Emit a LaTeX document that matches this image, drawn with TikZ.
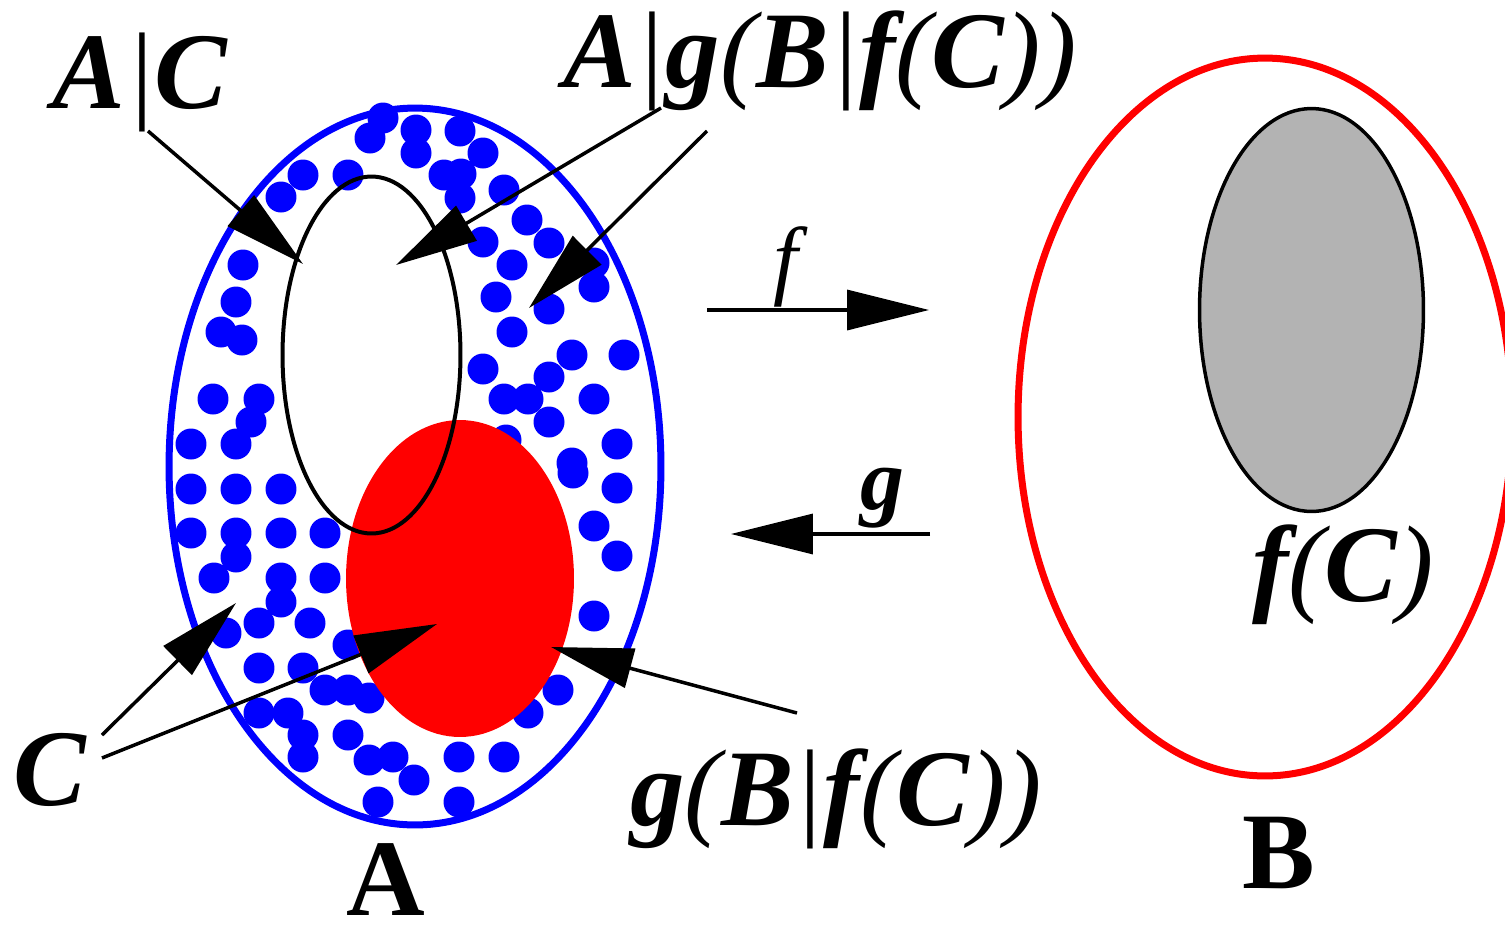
\documentclass[tikz,border=0pt]{standalone}
\usepackage{fontspec}
\setmainfont{Liberation Serif}
\usetikzlibrary{arrows.meta}
\definecolor{fcgray}{HTML}{B3B3B3}
\newcommand{\nrm}[1]{{\mdseries #1}}

\begin{document}
\begin{tikzpicture}[x=0.02cm,y=-0.02cm,
  lbl/.style={inner sep=0pt,anchor=base,font=\fontsize{62}{62}\selectfont\bfseries\itshape},
  maplbl/.style={inner sep=0pt,anchor=base,font=\fontsize{50}{50}\selectfont\itshape},
  setlbl/.style={inner sep=0pt,anchor=base,font=\fontsize{62}{62}\selectfont\bfseries},
  pointer/.style={line width=0.07cm,-{Triangle[length=1.64cm,width=0.8cm]}}]
  \useasboundingbox (0,0) rectangle (1505,941);
  % set A with its points
  \foreach \px/\py in {383/118,370/138,416/130,416/153,460/131,483/153,444/175,461/174,
      460/198,504/190,303/175,348/175,281/197,527/220,483/242,549/243,512/265,594/263,
      594/287,496/297,549/309,512/332,572/355,624/355,483/369,549/377,504/399,528/399,
      594/399,549/422,617/444,572/463,506/440,243/265,236/302,221/332,242/340,213/399,
      259/399,251/422,191/444,236/444,191/489,236/489,281/489,191/533,236/533,281/533,
      325/533,236/557,214/578,281/578,325/578,281/602,226/633,259/623,310/623,348/645,
      259/668,303/668,325/690,348/690,369/698,259/713,288/713,303/735,348/735,303/757,
      369/760,393/757,414/780,378/802,573/473,617/488,594/526,617/556,594/616,558/690,
      528/713,459/757,504/757,459/802}
    \fill[blue] (\px,\py) circle[radius=0.31cm];
  \draw[blue,line width=0.14cm] (415,466.5) ellipse [x radius=4.92cm,y radius=7.17cm];
  \fill[red] (460,578.5) ellipse [x radius=2.28cm,y radius=3.17cm];
  \draw[line width=0.08cm] (371.5,355) ellipse [x radius=1.78cm,y radius=3.57cm];
  % set B
  \draw[red,line width=0.14cm] (1265,417) ellipse [x radius=4.94cm,y radius=7.18cm];
  \filldraw[fill=fcgray,line width=0.07cm] (1311.5,310) ellipse [x radius=2.24cm,y radius=4.03cm];

  % labels
  \node[lbl] (lblAC) at (140,108) {A\nrm{|}C};
  \node[lbl] (lblAg) at (820,87) {A\nrm{|}g\nrm{(}B\nrm{|}f\nrm{(}C\nrm{))}};
  \node[lbl] (lblC) at (50,805) {C};
  \node[lbl] (lblgB) at (836,825) {g\nrm{(}B\nrm{|}f\nrm{(}C\nrm{))}};
  \node[lbl] (lblfC) at (1343,601) {f\nrm{(}C\nrm{)}};
  \node[maplbl] (lblf) at (786,288) {f};
  \node[maplbl,font=\fontsize{50}{50}\selectfont\bfseries\itshape] (lblg) at (882,509) {g};
  \node[setlbl] (lblA) at (386,915) {A};
  \node[setlbl] (lblB) at (1279,888) {B};

  % pointers
  \coordinate (acFrom) at (148,131);  \coordinate (acTo) at (303,264);
  \coordinate (agFromA) at (661,108); \coordinate (agToA) at (396,265);
  \coordinate (agFromB) at (707,131); \coordinate (agToB) at (529,308);
  \coordinate (fFrom) at (707,310);   \coordinate (fTo) at (929,310);
  \coordinate (gFrom) at (930,534);   \coordinate (gTo) at (731,534);
  \coordinate (cFromA) at (102,735);  \coordinate (cToA) at (236,603);
  \coordinate (cFromB) at (102,758);  \coordinate (cToB) at (437,624);
  \coordinate (gbFrom) at (797,713);  \coordinate (gbTo) at (551,647);
  \draw[pointer] (acFrom) -- (acTo);
  \draw[pointer] (agFromA) -- (agToA);
  \draw[pointer] (agFromB) -- (agToB);
  \draw[pointer] (fFrom) -- (fTo);
  \draw[pointer] (gFrom) -- (gTo);
  \draw[pointer] (cFromA) -- (cToA);
  \draw[pointer] (cFromB) -- (cToB);
  \draw[pointer] (gbFrom) -- (gbTo);
\end{tikzpicture}
\end{document}
